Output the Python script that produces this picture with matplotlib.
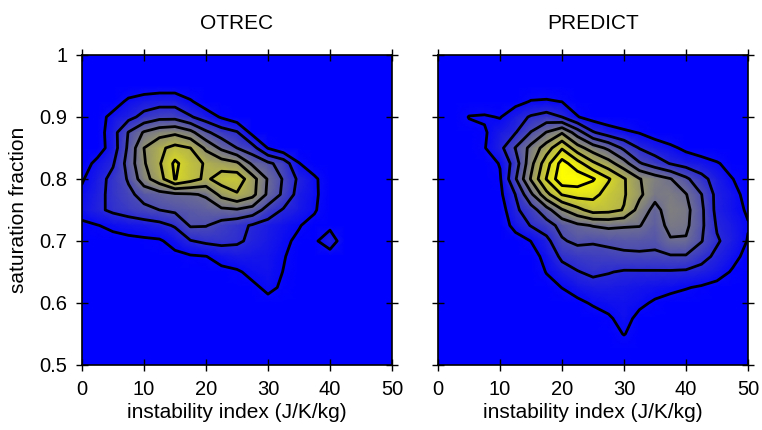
import numpy as np
import matplotlib.pyplot as plt
from matplotlib.colors import LinearSegmentedColormap

plt.rcParams['font.family'] = ['Liberation Sans', 'DejaVu Sans']

# bin centres of the 2-D histograms
instability = [0, 2.5, 5, 7.5, 10, 12.5, 15, 17.5, 20, 22.5, 25,
               27.5, 30, 32.5, 35, 37.5, 40, 42.5, 45, 47.5, 50]
saturation = [1.0, 0.975, 0.95, 0.925, 0.9, 0.875, 0.85, 0.825, 0.8, 0.775, 0.75,
              0.725, 0.7, 0.675, 0.65, 0.625, 0.6, 0.575, 0.55, 0.525, 0.5]

# joint frequency, one row per saturation bin (top row = 1.0)
otrec = [
    [0, 0, 0, 0, 0, 0, 0, 0, 0, 0, 0, 0, 0, 0, 0, 0, 0, 0, 0, 0, 0],
    [0, 0, 0, 0, 0, 0, 0, 0, 0, 0, 0, 0, 0, 0, 0, 0, 0, 0, 0, 0, 0],
    [0, 0, 0.1, 0.3, 0.4, 0.5, 0.5, 0.3, 0.1, 0, 0, 0, 0, 0, 0, 0, 0, 0, 0, 0, 0],
    [0, 0, 0.5, 1.2, 1.5, 1.6, 1.6, 1.1, 0.5, 0.2, 0, 0, 0, 0, 0, 0, 0, 0, 0, 0, 0],
    [0, 0.6, 1.3, 1.7, 2.3, 2.7, 2.7, 2.1, 1.5, 0.9, 0.4, 0.1, 0, 0, 0, 0, 0, 0, 0, 0, 0],
    [0.1, 0.5, 1.6, 3.05, 4.1, 4.6, 4.8, 4.3, 3.2, 2.5, 2.1, 0.7, 0.3, 0.1, 0, 0, 0, 0, 0, 0, 0],
    [0.3, 0.5, 1.5, 3.2, 5.0, 5.8, 6.3, 6.0, 4.8, 3.8, 3.0, 2.4, 0.95, 0.3, 0.1, 0, 0, 0, 0, 0, 0],
    [0.5, 1.3, 1.9, 3.4, 4.9, 5.9, 7.2, 6.4, 5.9, 5.5, 5.2, 3.8, 3.2, 2.6, 1.05, 0.3, 0.1, 0, 0, 0, 0],
    [0.9, 1.6, 2.3, 3.1, 4.6, 5.6, 7.05, 6.4, 5.8, 6.5, 6.6, 5.4, 3.9, 2.9, 1.8, 1.2, 0.3, 0, 0, 0, 0],
    [1.2, 1.7, 2.3, 2.8, 3.3, 3.6, 3.8, 3.9, 4.1, 5.3, 5.9, 5.3, 3.8, 2.8, 1.6, 1.2, 0.4, 0, 0, 0, 0],
    [1.3, 1.8, 2.2, 2.5, 2.8, 3.0, 3.2, 3.4, 3.6, 3.8, 3.9, 3.6, 2.6, 1.9, 1.5, 1.1, 0.4, 0, 0, 0, 0],
    [0.85, 0.97, 1.2, 1.35, 1.5, 1.7, 2.1, 3.1, 3.05, 2.6, 2.3, 1.9, 1.6, 1.3, 1.05, 0.7, 0.7, 0, 0, 0, 0],
    [0.5, 0.6, 0.7, 0.8, 0.85, 0.9, 1.3, 1.95, 2.2, 2.3, 2.15, 1.8, 1.5, 1.15, 0.85, 0.8, 1.7, 0.2, 0, 0, 0],
    [0.2, 0.3, 0.4, 0.5, 0.6, 0.7, 0.8, 0.9, 0.98, 1.3, 1.5, 1.45, 1.35, 1.05, 0.7, 0.5, 0.4, 0, 0, 0, 0],
    [0.1, 0.1, 0.2, 0.3, 0.3, 0.4, 0.5, 0.6, 0.7, 0.8, 0.9, 1.2, 1.3, 0.98, 0.5, 0.3, 0.1, 0, 0, 0, 0],
    [0, 0, 0.1, 0.1, 0.2, 0.2, 0.3, 0.4, 0.5, 0.6, 0.7, 0.85, 1.15, 0.9, 0.4, 0.2, 0.1, 0, 0, 0, 0],
    [0, 0, 0, 0, 0.1, 0.1, 0.2, 0.2, 0.3, 0.4, 0.5, 0.6, 0.8, 0.6, 0.3, 0.1, 0, 0, 0, 0, 0],
    [0, 0, 0, 0, 0, 0, 0.1, 0.1, 0.2, 0.2, 0.3, 0.3, 0.4, 0.3, 0.2, 0.1, 0, 0, 0, 0, 0],
    [0, 0, 0, 0, 0, 0, 0, 0, 0.1, 0.1, 0.1, 0.1, 0.2, 0.1, 0.1, 0, 0, 0, 0, 0, 0],
    [0, 0, 0, 0, 0, 0, 0, 0, 0, 0, 0, 0, 0, 0, 0, 0, 0, 0, 0, 0, 0],
    [0, 0, 0, 0, 0, 0, 0, 0, 0, 0, 0, 0, 0, 0, 0, 0, 0, 0, 0, 0, 0],
]

predict = [
    [0, 0, 0, 0, 0, 0, 0, 0, 0, 0, 0, 0, 0, 0, 0, 0, 0, 0, 0, 0, 0],
    [0, 0, 0, 0, 0, 0, 0, 0, 0, 0, 0, 0, 0, 0, 0, 0, 0, 0, 0, 0, 0],
    [0, 0, 0, 0, 0.05, 0.2, 0.4, 0.4, 0.3, 0.1, 0, 0, 0, 0, 0, 0, 0, 0, 0, 0, 0],
    [0, 0, 0.3, 0.4, 0.3, 0.7, 1.05, 1.1, 0.98, 0.5, 0.2, 0, 0, 0, 0, 0, 0, 0, 0, 0, 0],
    [0, 0.2, 1.05, 1.1, 0.95, 1.6, 2.1, 2.4, 2.0, 1.05, 0.6, 0.4, 0.2, 0.1, 0, 0, 0, 0, 0, 0, 0],
    [0, 0.1, 0.6, 0.9, 1.5, 1.95, 3.05, 4.05, 4.9, 3.5, 2.1, 1.5, 1.2, 0.95, 0.6, 0.3, 0.1, 0, 0, 0, 0],
    [0, 0, 0.3, 0.95, 1.7, 3.05, 4.3, 5.5, 6.9, 5.4, 4.5, 3.8, 2.8, 1.95, 1.5, 1.2, 0.8, 0.5, 0.2, 0.1, 0],
    [0, 0, 0.1, 0.6, 1.05, 2.5, 4.7, 6.6, 8.4, 7.4, 6.2, 5.4, 4.4, 3.1, 2.5, 1.95, 1.6, 1.4, 1.1, 0.6, 0.3],
    [0, 0, 0.05, 0.3, 0.9, 2.9, 5.1, 7.05, 8.7, 8.6, 8.1, 7.1, 6.1, 5.05, 4.5, 4.05, 3.2, 2.3, 1.6, 1.02, 0.6],
    [0, 0, 0, 0.2, 0.8, 2.02, 3.8, 5.7, 7.05, 7.4, 7.3, 6.6, 6.1, 5.2, 4.3, 4.4, 4.05, 3.02, 1.7, 1.3, 0.7],
    [0, 0, 0, 0.1, 0.5, 1.8, 2.6, 3.6, 4.9, 5.7, 6.4, 6.3, 5.95, 4.6, 3.7, 4.5, 4.3, 3.2, 1.7, 1.3, 0.9],
    [0, 0, 0, 0, 0.3, 1.4, 2.05, 2.6, 3.3, 3.8, 4.05, 4.2, 4.1, 4.05, 3.5, 4.3, 4.2, 3.2, 1.9, 1.5, 1.05],
    [0, 0, 0, 0, 0.1, 0.5, 1.02, 1.7, 2.9, 3.2, 3.1, 3.2, 3.3, 3.3, 3.2, 3.9, 3.9, 3.05, 2.1, 1.6, 0.95],
    [0, 0, 0, 0, 0, 0.1, 0.6, 1.3, 2.2, 2.5, 2.6, 2.7, 2.8, 2.85, 2.85, 2.9, 2.9, 2.3, 1.8, 1.3, 0.7],
    [0, 0, 0, 0, 0, 0, 0.3, 1.05, 1.6, 1.95, 2.2, 2.05, 1.9, 1.9, 1.9, 1.9, 1.85, 1.7, 1.4, 0.9, 0.5],
    [0, 0, 0, 0, 0, 0, 0, 0.6, 1.02, 1.4, 1.6, 1.6, 1.5, 1.4, 1.3, 1.2, 1.05, 0.9, 0.7, 0.4, 0.2],
    [0, 0, 0, 0, 0, 0, 0, 0.2, 0.5, 0.8, 1.1, 1.25, 1.3, 1.15, 0.9, 0.7, 0.6, 0.4, 0.3, 0.1, 0],
    [0, 0, 0, 0, 0, 0, 0, 0, 0.1, 0.3, 0.6, 0.9, 1.25, 0.8, 0.5, 0.3, 0.2, 0, 0, 0, 0],
    [0, 0, 0, 0, 0, 0, 0, 0, 0, 0, 0.2, 0.5, 1.05, 0.5, 0.2, 0, 0, 0, 0, 0, 0],
    [0, 0, 0, 0, 0, 0, 0, 0, 0, 0, 0, 0.1, 0.3, 0.1, 0, 0, 0, 0, 0, 0, 0],
    [0, 0, 0, 0, 0, 0, 0, 0, 0, 0, 0, 0, 0, 0, 0, 0, 0, 0, 0, 0, 0],
]

contour_levels = [1, 2, 3, 4, 5, 6, 7, 8]
colour_range = (0.8, 8.2)
panel_titles = ['OTREC', 'PREDICT']
x_ticks = [0, 10, 20, 30, 40, 50]
x_ticklabels = ['0', '10', '20', '30', '40', '50']
y_ticks = [0.5, 0.6, 0.7, 0.8, 0.9, 1.0]
y_ticklabels = ['0.5', '0.6', '0.7', '0.8', '0.9', '1']

# blue -> grey -> yellow
cmap = LinearSegmentedColormap.from_list('blue_yellow', ['#0000ff', '#ffff00'])

X, Y = np.meshgrid(instability, saturation)
fields = [np.array(otrec), np.array(predict)]

fig = plt.figure(figsize=(7.62, 4.30), dpi=100)
axes = [fig.add_axes([0.1076, 0.1512, 0.4068, 0.7209]),
        fig.add_axes([0.5748, 0.1512, 0.4068, 0.7209])]

for i, ax in enumerate(axes):
    ax.pcolormesh(X, Y, fields[i], shading='gouraud', cmap=cmap,
                  vmin=colour_range[0], vmax=colour_range[1])
    cs = ax.contour(X, Y, fields[i], levels=contour_levels, colors='black', linewidths=2.0)
    cs.set_joinstyle('round')
    cs.set_capstyle('round')
    ax.set_xlim(0, 50)
    ax.set_ylim(0.5, 1.0)
    ax.set_title(panel_titles[i], fontsize=15, pad=19)
    ax.set_xticks(x_ticks)
    ax.set_xticklabels(x_ticklabels)
    ax.set_yticks(y_ticks)
    ax.set_yticklabels(y_ticklabels)
    ax.set_xlabel('instability index (J/K/kg)', fontsize=15, labelpad=3)
    ax.tick_params(direction='inout', length=9, width=1, top=True, right=True,
                   labelsize=14.5, pad=6)
    for s in ax.spines.values():
        s.set_linewidth(1.2)

axes[0].set_ylabel('saturation fraction', fontsize=15, labelpad=8)
axes[1].tick_params(labelleft=False)

fig.savefig('out.png', dpi=100)
